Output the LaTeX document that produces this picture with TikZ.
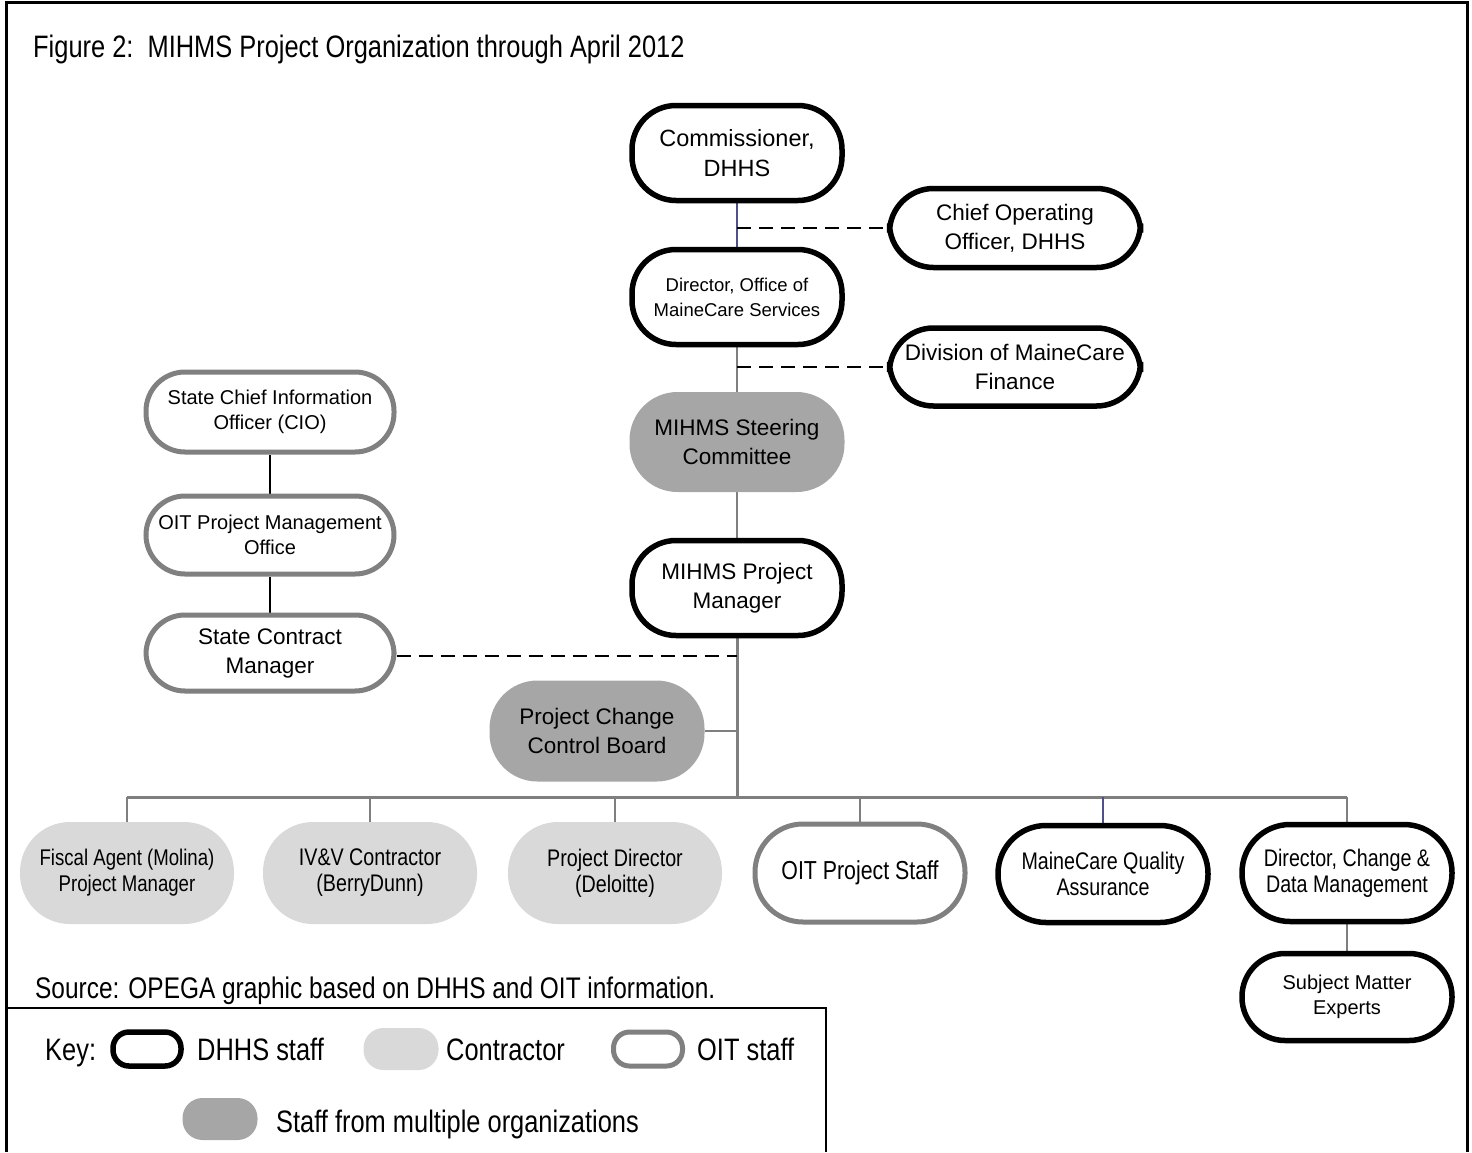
\documentclass[tikz,border=0pt]{standalone}
\usepackage{fontspec}
\setmainfont{Liberation Sans}
\newfontfamily\cond{Liberation Sans}[FakeStretch=0.82]
\usetikzlibrary{backgrounds}
\definecolor{oitgray}{HTML}{808080}
\definecolor{contrgray}{HTML}{D9D9D9}
\definecolor{multigray}{HTML}{A6A6A6}
\definecolor{linegray}{HTML}{7F7F7F}
\definecolor{blueline}{HTML}{505088}
\begin{document}
\begin{tikzpicture}[x=1pt,y=-1pt,
  base/.style={align=center, inner sep=0pt, text=black},
  dhhs/.style={base, draw=black, line width=5.5pt, fill=white, rounded corners=44pt},
  oit/.style={base, draw=oitgray, line width=5pt, fill=white, rounded corners=39pt},
  contr/.style={base, fill=contrgray, rounded corners=50pt},
  multi/.style={base, fill=multigray, rounded corners=48pt},
  big/.style={font=\fontsize{22.5}{29}\selectfont},
  small/.style={font=\fontsize{20}{25}\selectfont},
  condsm/.style={font=\cond\fontsize{24}{26}\selectfont},
  condbig/.style={font=\cond\fontsize{31}{36}\selectfont},
  gline/.style={draw=linegray, line width=2pt},
  bline/.style={draw=blueline, line width=1.5pt},
  dashline/.style={draw=black, line width=2pt, dash pattern=on 14pt off 8pt},
  kline/.style={draw=black, line width=2pt}
]
\useasboundingbox (0,0) rectangle (1472,1152);
% frames
\draw[line width=3pt] (6,1152) -- (6,2) -- (1467,2) -- (1467,1152);
\draw[line width=2.5pt] (6,1008) -- (826,1008) -- (826,1152);

% title and source
\node[base, condbig, anchor=base west] (title) at (33,57) {Figure 2:\ \ MIHMS Project Organization through April 2012};
\node[base, font=\cond\fontsize{29.8}{36}\selectfont, anchor=base west] (source) at (35,998) {Source: OPEGA graphic based on DHHS and OIT information.};

% main chain
\node[dhhs, font=\fontsize{23.5}{30}\selectfont, minimum width=210, minimum height=95] (comm) at (737,153) {Commissioner,\\DHHS};
\node[dhhs, big, minimum width=251, minimum height=79] (coo) at (1015,228) {Chief Operating\\Officer, DHHS};
\node[dhhs, font=\fontsize{18.5}{25}\selectfont, minimum width=210, minimum height=95] (dir) at (737,297) {Director, Office of\\MaineCare Services};
\node[dhhs, big, minimum width=251, minimum height=78] (div) at (1015,367) {Division of MaineCare\\Finance};
\node[multi, big, minimum width=215, minimum height=100] (steer) at (737,442) {MIHMS Steering\\Committee};
\node[dhhs, big, minimum width=210, minimum height=95] (pm) at (737,588) {MIHMS Project\\Manager};

% OIT chain
\node[oit, small, minimum width=248, minimum height=80] (cio) at (270,412) {State Chief Information\\Officer (CIO)};
\node[oit, small, minimum width=248, minimum height=78] (pmo) at (270,535) {OIT Project Management\\Office};
\node[oit, big, minimum width=248, minimum height=76] (scm) at (270,653) {State Contract\\Manager};

% change control board
\node[multi, big, minimum width=215, minimum height=101] (pccb) at (597,731) {Project Change\\Control Board};

% bottom row
\node[contr, font=\cond\fontsize{22.7}{26}\selectfont, minimum width=214, minimum height=102] (fa) at (127,873) {Fiscal Agent (Molina)\\Project Manager};
\node[contr, condsm, minimum width=214, minimum height=102] (ivv) at (370,873) {IV\&V Contractor\\(BerryDunn)};
\node[contr, condsm, minimum width=214, minimum height=102] (pd) at (615,873) {Project Director\\(Deloitte)};
\node[oit, font=\cond\fontsize{26}{28}\selectfont, minimum width=210, minimum height=98, rounded corners=48pt] (ops) at (860,873) {OIT Project Staff};
\node[dhhs, condsm, minimum width=210, minimum height=97, rounded corners=48pt] (qa) at (1103,874) {MaineCare Quality\\Assurance};
\node[dhhs, condsm, minimum width=210, minimum height=97, rounded corners=48pt] (dc) at (1347,873) {Director, Change \&\\Data Management};
\node[dhhs, small, minimum width=210, minimum height=87, rounded corners=43pt] (sme) at (1347,997) {Subject Matter\\Experts};

% legend
\node[base, condbig, anchor=base west] (keylbl) at (45,1060) {Key:};
\node[base, draw=black, line width=5.5pt, minimum width=68, minimum height=34, rounded corners=16pt] (kd) at (147,1049) {};
\node[base, condbig, anchor=base west] (kdt) at (197,1060) {DHHS staff};
\node[base, fill=contrgray, minimum width=75, minimum height=42, rounded corners=20pt] (kc) at (401,1049) {};
\node[base, condbig, anchor=base west] (kct) at (446,1060) {Contractor};
\node[base, draw=oitgray, line width=5pt, minimum width=69, minimum height=34, rounded corners=16pt] (ko) at (648,1049) {};
\node[base, condbig, anchor=base west] (kot) at (697,1060) {OIT staff};
\node[base, fill=multigray, minimum width=75, minimum height=42, rounded corners=20pt] (km) at (220,1119) {};
\node[base, condbig, anchor=base west] (kmt) at (276,1132) {Staff from multiple organizations};

% connectors
\coordinate (busy) at (0,797);
\begin{scope}[on background layer]
\draw[bline] (comm.south) -- (dir.north);
\draw[gline] (dir.south) -- (steer.north);
\draw[gline] (steer.south) -- (pm.north);
\draw[gline, line width=3pt] (pm.south) -- (pm.south |- busy);
\draw[gline, line width=3pt] (fa.north |- busy) -- (dc.north |- busy);
\draw[gline, line width=2.5pt] (pccb.east) -- (pccb.east -| pm.south);
\draw[gline] (fa.north |- busy) -- (fa.north);
\draw[gline] (ivv.north |- busy) -- (ivv.north);
\draw[gline] (pd.north |- busy) -- (pd.north);
\draw[gline] (ops.north |- busy) -- (ops.north);
\draw[bline] (qa.north |- busy) -- (qa.north);
\draw[gline] (dc.north |- busy) -- (dc.north);
\draw[gline] (dc.south) -- (sme.north);
\draw[kline] (cio.south) -- (pmo.north);
\draw[kline] (pmo.south) -- (scm.north);
\draw[dashline] (comm.south |- coo.west) -- (coo.west);
\draw[dashline] (dir.south |- div.west) -- (div.west);
\draw[dashline] ([yshift=-3pt]scm.east) -- ([yshift=-3pt]scm.east -| pm.south);
\end{scope}
\end{tikzpicture}
\end{document}
